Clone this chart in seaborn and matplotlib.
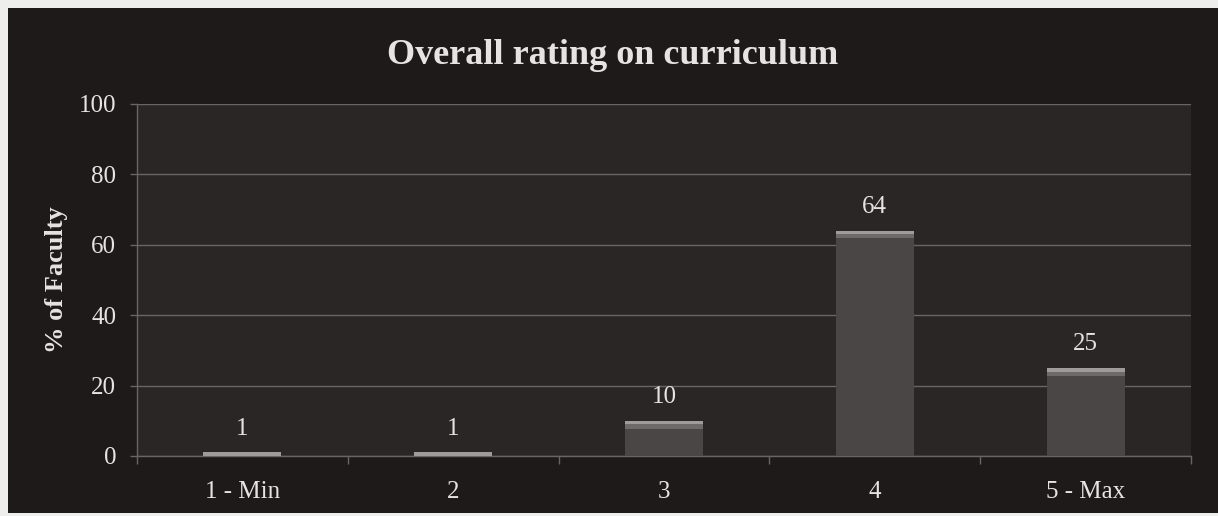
import matplotlib
matplotlib.use("Agg")
import matplotlib.pyplot as plt
import seaborn as sns
import pandas as pd
from matplotlib.patches import Rectangle

categories = ["1 - Min", "2", "3", "4", "5 - Max"]
values = [1, 1, 10, 64, 25]
yticks = [0, 20, 40, 60, 80, 100]
title = "Overall rating on curriculum"
ylabel = "% of Faculty"

sns.set_theme(style="dark")
plt.rcParams['font.family'] = ['Liberation Serif', 'DejaVu Serif']

BG = "#1e1a1a"
PLOT_BG = "#2a2626"
GRID = "#6a6565"
TEXT = "#e6e3e3"
BAR = "#4a4646"
BAR_MID = "#6e6a6a"
BAR_TOP = "#a09b9b"

W, H = 1218, 516
fig = plt.figure(figsize=(W / 100, H / 100), dpi=100, facecolor="#eeeeec")
fig.patches.append(Rectangle((8 / W, 3 / H), 1 - 8 / W, 1 - 11 / H,
                             transform=fig.transFigure, facecolor=BG,
                             edgecolor="none", zorder=-10))

ax = fig.add_axes([137 / W, (H - 456) / H, (1191 - 137) / W, (456 - 104) / H])
df = pd.DataFrame({"cat": categories, "val": values})
sns.barplot(data=df, x="cat", y="val", ax=ax, color=BAR, saturation=1,
            width=0.37, edgecolor="none", zorder=3)

# top highlight on each bar, derived from the bar patches
for p in list(ax.patches):
    h = p.get_height()
    hl = min(2.2, h)
    ax.add_patch(Rectangle((p.get_x(), h - hl), p.get_width(), hl,
                           facecolor=BAR_MID, edgecolor="none", zorder=4))
    hl2 = min(1.0, h)
    ax.add_patch(Rectangle((p.get_x(), h - hl2), p.get_width(), hl2,
                           facecolor=BAR_TOP, edgecolor="none", zorder=5))

for c in ax.containers:
    ax.bar_label(c, labels=[str(v) for v in values], padding=9,
                 color=TEXT, fontsize=18)

ax.set_facecolor(PLOT_BG)
ax.set_ylim(0, 100)
ax.set_yticks(yticks)
ax.set_yticklabels([str(t) for t in yticks])
ax.set_xlim(-0.5, len(categories) - 0.5)
ax.yaxis.grid(True, color=GRID, linewidth=1.0, zorder=0)
ax.xaxis.grid(False)
ax.set_axisbelow(True)

for s in ["top", "right"]:
    ax.spines[s].set_visible(False)
for s in ["left", "bottom"]:
    ax.spines[s].set_visible(True)
    ax.spines[s].set_color(GRID)
    ax.spines[s].set_linewidth(1.0)

ax.tick_params(axis="y", colors=GRID, labelcolor=TEXT, labelsize=18,
               length=5, width=1, direction="out", left=True, pad=10)
ax.tick_params(axis="x", colors=GRID, labelcolor=TEXT, labelsize=18,
               length=0, pad=18)
# minor ticks at category boundaries on x axis
ax.set_xticks([i - 0.5 for i in range(len(categories) + 1)], minor=True)
ax.tick_params(axis="x", which="minor", length=6, color=GRID, bottom=True)

ax.set_xlabel("")
ax.set_ylabel(ylabel, color=TEXT, fontsize=19, fontweight="bold", labelpad=8)
fig.text(0.503, 0.893, title, color=TEXT, fontsize=26, fontweight="bold",
         ha="center", va="center")

fig.savefig("out.png", dpi=100, facecolor=fig.get_facecolor())
